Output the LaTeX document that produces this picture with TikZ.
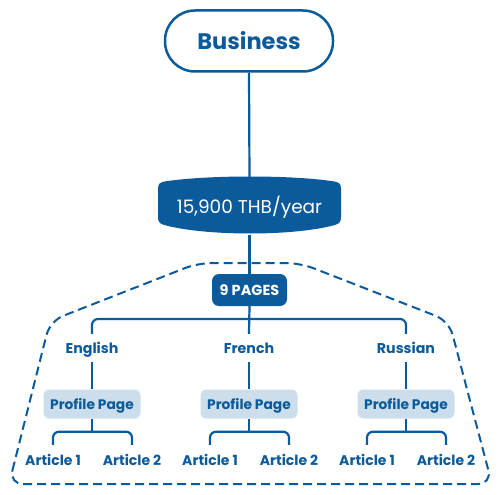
\documentclass[tikz,border=0pt]{standalone}
\usepackage{fontspec}
\setmainfont{Poppins}
\usetikzlibrary{calc}
\pgfdeclarelayer{bg}
\pgfsetlayers{bg,main}
\definecolor{dblue}{RGB}{11,90,155}
\definecolor{lblue}{RGB}{204,221,235}
\tikzset{
  conn/.style={draw=dblue, line width=2.2pt, rounded corners=6pt},
  capbox/.style={text height=10pt, text depth=0pt},
  lang/.style={capbox, text=dblue, font=\fontsize{14.2}{16}\selectfont\bfseries, minimum height=28pt, inner sep=0pt},
  art/.style={capbox, text=dblue, font=\fontsize{14}{16}\selectfont\bfseries, minimum height=30pt, inner sep=0pt},
  profile/.style={capbox, fill=lblue, text=dblue, rounded corners=6pt, font=\fontsize{13.8}{16}\selectfont\bfseries, minimum width=97pt, minimum height=29pt, inner sep=0pt},
  border/.style={draw=dblue, line width=2pt, dash pattern=on 9pt off 5pt, rounded corners=14pt}
}
\begin{document}
\begin{tikzpicture}[x=1pt,y=-1pt]
\useasboundingbox (0,0) rectangle (501,495);
% Business
\node[draw=dblue, line width=2.5pt, fill=white, rounded corners=30pt, minimum width=168pt, minimum height=61pt, text=dblue, font=\fontsize{22.5}{26}\selectfont\bfseries] (biz) at (249,41) {Business};
% price
\fill[dblue] (158,189) .. controls (158,183) and (160,182) .. (168,181) .. controls (210,175) and (290,175) .. (331,181) .. controls (339,182) and (341,183) .. (341,189) -- (341,217) .. controls (341,223) and (339,224) .. (331,226) .. controls (290,236) and (210,236) .. (168,226) .. controls (160,224) and (158,223) .. (158,217) -- cycle;
\node[text=white, text height=13pt, text depth=0pt, font=\fontsize{18.5}{22}\selectfont, minimum width=183pt, minimum height=56pt, inner sep=0pt] (price) at (249.5,207) {15,900 THB/year};
% pages
\node[capbox, fill=dblue, text=white, rounded corners=7pt, minimum width=75pt, minimum height=32pt, inner sep=0pt, font=\fontsize{14.5}{16}\selectfont\bfseries] (pages) at (249.5,290) {9 PAGES};
% languages
\node[lang] (en) at (92,348) {English};
\node[lang] (fr) at (249,348) {French};
\node[lang] (ru) at (406,348) {Russian};
\coordinate (bar) at (249,319);
% profiles
\node[profile] (pen) at (92,404) {Profile Page};
\node[profile] (pfr) at (249,404) {Profile Page};
\node[profile] (pru) at (406,404) {Profile Page};
% articles
\node[art] (en1) at (53,460) {Article 1};
\node[art] (en2) at (132,460) {Article 2};
\node[art] (fr1) at (210,460) {Article 1};
\node[art] (fr2) at (289,460) {Article 2};
\node[art] (ru1) at (367,460) {Article 1};
\node[art] (ru2) at (446,460) {Article 2};
\begin{pgfonlayer}{bg}
\draw[conn] (biz.south) -- (price.north);
\draw[conn] (price.south) -- (pages.north);
\draw[conn] (pages.south) -- (fr.north);
\draw[conn] (en.north) |- (bar) -| (ru.north);
\draw[conn] (en.south) -- (pen.north);
\draw[conn] (fr.south) -- (pfr.north);
\draw[conn] (ru.south) -- (pru.north);
\draw[conn] (en1.north) |- ($(pen.south)+(0,13)$) -| (en2.north);
\draw[conn] (pen.south) -- ++(0,13);
\draw[conn] (fr1.north) |- ($(pfr.south)+(0,13)$) -| (fr2.north);
\draw[conn] (pfr.south) -- ++(0,13);
\draw[conn] (ru1.north) |- ($(pru.south)+(0,13)$) -| (ru2.north);
\draw[conn] (pru.south) -- ++(0,13);
\end{pgfonlayer}
% dashed border
\draw[border] (9,484) -- (50,321) -- (198,263) -- (300,263) -- (449,321) -- (492,484) -- cycle;
\end{tikzpicture}
\end{document}
